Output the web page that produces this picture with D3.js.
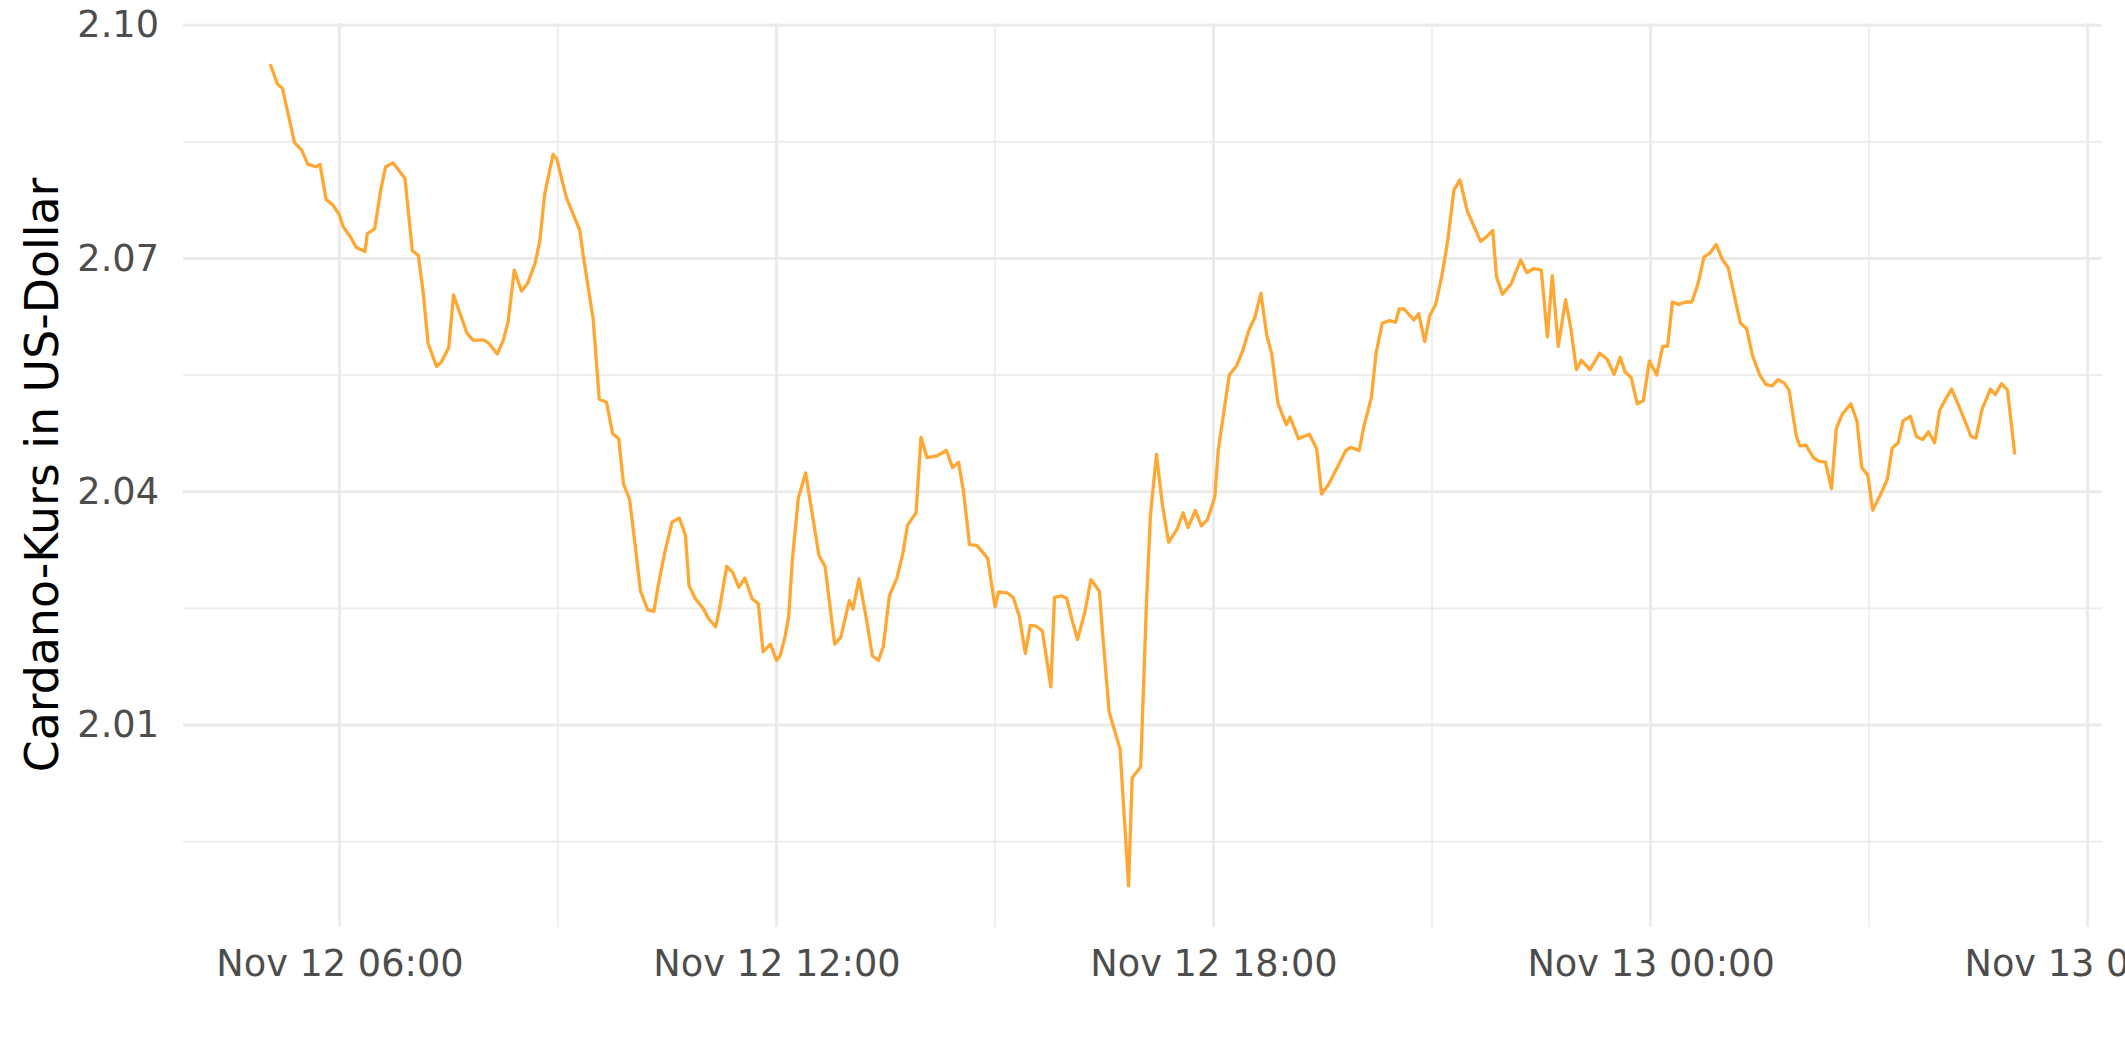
<!DOCTYPE html>
<html>
<head>
<meta charset="utf-8">
<script src="https://cdn.jsdelivr.net/npm/d3@7"></script>
<style>
  html, body { margin: 0; padding: 0; background: #fff; }
  svg { display: block; }
</style>
</head>
<body>
<svg id="chart"></svg>
<script>
// ---- data ----
const timesNov12 = [
  "05:03","05:09","05:13","05:18","05:23","05:29","05:34","05:41","05:44","05:49","05:55",
  "06:00","06:03","06:09","06:14","06:21","06:23","06:29","06:34","06:38","06:44","06:49","06:54",
  "07:00","07:05","07:09","07:13","07:20","07:24","07:30","07:34","07:45","07:50","07:59",
  "08:03","08:10","08:15","08:19","08:24","08:30","08:35","08:41","08:45","08:49","08:56","08:59",
  "09:07","09:18","09:21","09:29","09:34","09:40","09:45","09:50","09:54","09:59",
  "10:03","10:08","10:14","10:19","10:23","10:28","10:34","10:40","10:45","10:48","10:53",
  "11:00","11:04","11:10","11:13","11:19","11:24","11:29","11:34","11:40","11:45","11:49","11:55",
  "12:00","12:03","12:07","12:10","12:13","12:18","12:24","12:30","12:35","12:40","12:43","12:48","12:53",
  "13:00","13:03","13:08","13:14","13:19","13:24","13:28","13:33","13:39","13:44","13:48","13:55","13:59",
  "14:04","14:09","14:12","14:20","14:25","14:30","14:34","14:39","14:45","14:50","14:54",
  "15:00","15:03","15:10","15:15","15:20","15:25","15:29","15:34","15:39","15:46","15:49","15:55","15:59",
  "16:04","16:08","16:14","16:19","16:26","16:28","16:34","16:43","16:50","16:53",
  "17:00","17:05","17:08","17:13","17:18","17:23","17:30","17:35","17:39","17:45","17:50","17:55",
  "18:01","18:04","18:13","18:19","18:24","18:29","18:34","18:39","18:44","18:48","18:53",
  "19:00","19:03","19:10","19:19","19:25","19:29","19:35","19:49","19:53",
  "20:00","20:04","20:10","20:14","20:19","20:25","20:30","20:33","20:37","20:45","20:49","20:54","20:58",
  "21:03","21:08","21:13","21:18","21:23","21:29","21:40","21:45","21:50","21:53","21:58",
  "22:05","22:13","22:18","22:24","22:30","22:35","22:39","22:44","22:50","22:54","22:59",
  "23:03","23:10","23:15","23:18","23:24","23:30","23:35","23:39","23:44","23:49","23:54","23:59"
];
const timesNov13 = [
  "00:05","00:10","00:14","00:18","00:23","00:29","00:34","00:39","00:44","00:49","00:54","00:59",
  "01:04","01:09","01:14","01:19","01:24","01:30","01:35","01:40","01:45","01:50","01:54",
  "02:00","02:03","02:08","02:14","02:19","02:24","02:29","02:33","02:38","02:45","02:50","02:54","02:59",
  "03:03","03:09","03:15","03:19","03:24","03:28","03:34","03:39","03:44","03:49","03:54","03:58",
  "04:03","04:08","04:14","04:20","04:24","04:28","04:33","04:40","04:44","04:49","04:54","05:00"
];
const prices = [
  2.0950,2.0924,2.0919,2.0884,2.0849,2.0839,2.0821,2.0818,2.0821,2.0776,2.0768,
  2.0756,2.0741,2.0728,2.0714,2.0709,2.0732,2.0738,2.0788,2.0818,2.0823,2.0813,2.0803,
  2.0710,2.0704,2.0656,2.0591,2.0561,2.0567,2.0585,2.0653,2.0604,2.0595,2.0595,
  2.0591,2.0577,2.0595,2.0619,2.0685,2.0658,2.0668,2.0693,2.0722,2.0782,2.0834,2.0828,
  2.0778,2.0736,2.0702,2.0622,2.0519,2.0515,2.0475,2.0468,2.0410,2.0390,
  2.0339,2.0272,2.0248,2.0246,2.0283,2.0322,2.0361,2.0366,2.0344,2.0279,2.0263,
  2.0249,2.0237,2.0226,2.0249,2.0304,2.0296,2.0277,2.0289,2.0262,2.0256,2.0194,2.0204,
  2.0183,2.0189,2.0213,2.0239,2.0311,2.0392,2.0424,2.0366,2.0318,2.0304,2.0266,2.0204,2.0213,
  2.0260,2.0249,2.0288,2.0237,2.0189,2.0183,2.0201,2.0266,2.0288,2.0320,2.0357,2.0373,2.0470,
  2.0444,2.0445,2.0446,2.0453,2.0431,2.0438,2.0401,2.0332,2.0331,2.0322,2.0314,
  2.0252,2.0271,2.0270,2.0264,2.0240,2.0192,2.0228,2.0227,2.0221,2.0149,2.0264,2.0266,2.0263,
  2.0232,2.0210,2.0245,2.0287,2.0272,2.0230,2.0117,2.0069,1.9893,2.0032,
  2.0046,2.0266,2.0369,2.0448,2.0382,2.0335,2.0352,2.0373,2.0354,2.0376,2.0356,2.0364,
  2.0393,2.0455,2.0550,2.0562,2.0581,2.0607,2.0624,2.0655,2.0600,2.0577,2.0514,
  2.0486,2.0496,2.0468,2.0474,2.0455,2.0397,2.0410,2.0453,2.0457,
  2.0453,2.0485,2.0521,2.0579,2.0617,2.0620,2.0618,2.0635,2.0635,2.0621,2.0629,2.0593,2.0626,
  2.0641,2.0677,2.0724,2.0788,2.0801,2.0761,2.0722,2.0728,2.0736,2.0677,2.0654,
  2.0667,2.0698,2.0682,2.0687,2.0685,2.0599,2.0678,2.0587,2.0647,2.0613,2.0557,
  2.0569,2.0557,2.0570,2.0578,2.0571,2.0551,2.0573,2.0554,2.0547,2.0513,2.0517,2.0568,
  2.0550,2.0587,2.0587,2.0644,2.0641,2.0644,2.0644,2.0667,2.0702,2.0707,2.0718,2.0699,
  2.0688,2.0652,2.0617,2.0610,2.0575,2.0550,2.0538,2.0536,2.0544,2.0540,2.0531,
  2.0472,2.0459,2.0460,2.0444,2.0439,2.0438,2.0404,2.0481,2.0500,2.0513,2.0491,2.0431,2.0421,
  2.0376,2.0395,2.0416,2.0456,2.0463,2.0491,2.0497,2.0471,2.0467,2.0477,2.0463,2.0504,
  2.0519,2.0532,2.0510,2.0487,2.0471,2.0469,2.0506,2.0532,2.0525,2.0539,2.0531,2.0448
];
const yMajorTicks = [2.01, 2.04, 2.07, 2.10];
const yMinorTicks = [1.995, 2.025, 2.055, 2.085];
const xMajorTicks = ["2021-11-12 06:00","2021-11-12 12:00","2021-11-12 18:00","2021-11-13 00:00","2021-11-13 06:00"];
const xMinorTicks = ["2021-11-12 09:00","2021-11-12 15:00","2021-11-12 21:00","2021-11-13 03:00"];
const yTitle = "Cardano-Kurs in US-Dollar";

// ---- build ----
const parse = d3.utcParse("%Y-%m-%d %H:%M");
const times = timesNov12.map(t => parse("2021-11-12 " + t))
  .concat(timesNov13.map(t => parse("2021-11-13 " + t)));
const data = times.map((t, i) => ({ t, v: prices[i] }));

const W = 2125, H = 1062;
const margin = { top: 23, right: 23, bottom: 135, left: 183 };

const svg = d3.select("#chart").attr("width", W).attr("height", H);
svg.append("rect").attr("width", W).attr("height", H).attr("fill", "#fff");

function expand(ext, f) { const r = ext[1] - ext[0]; return [ext[0] - r * f, ext[1] + r * f]; }

const tExt = d3.extent(times, d => +d);
const xDom = expand(tExt, 0.05).map(d => new Date(d));
const yDom = expand(d3.extent(prices), 0.05);

const x = d3.scaleUtc().domain(xDom).range([margin.left, W - margin.right]);
const y = d3.scaleLinear().domain(yDom).range([H - margin.bottom, margin.top]);

const grid = svg.append("g");
const gridColor = "#EBEBEB";
// minor
grid.selectAll(".ymin").data(yMinorTicks).join("line")
  .attr("x1", margin.left).attr("x2", W - margin.right)
  .attr("y1", d => y(d)).attr("y2", d => y(d))
  .attr("stroke", gridColor).attr("stroke-width", 1.6);
grid.selectAll(".xmin").data(xMinorTicks.map(parse)).join("line")
  .attr("x1", d => x(d)).attr("x2", d => x(d))
  .attr("y1", margin.top).attr("y2", H - margin.bottom)
  .attr("stroke", gridColor).attr("stroke-width", 1.6);
// major
grid.selectAll(".ymaj").data(yMajorTicks).join("line")
  .attr("x1", margin.left).attr("x2", W - margin.right)
  .attr("y1", d => y(d)).attr("y2", d => y(d))
  .attr("stroke", gridColor).attr("stroke-width", 3);
grid.selectAll(".xmaj").data(xMajorTicks.map(parse)).join("line")
  .attr("x1", d => x(d)).attr("x2", d => x(d))
  .attr("y1", margin.top).attr("y2", H - margin.bottom)
  .attr("stroke", gridColor).attr("stroke-width", 3);

// line
const line = d3.line().x(d => x(d.t)).y(d => y(d.v));
svg.append("path").datum(data)
  .attr("d", line)
  .attr("fill", "none")
  .attr("stroke", "#FFA733")
  .attr("stroke-width", 3.3)
  .attr("stroke-linejoin", "round");

// axes
const font = "'DejaVu Sans', sans-serif";
const xAxis = d3.axisBottom(x)
  .tickValues(xMajorTicks.map(parse))
  .tickFormat(d3.utcFormat("%b %d %H:%M"))
  .tickSize(0).tickPadding(23);
const gx = svg.append("g").attr("transform", `translate(0,${H - margin.bottom})`).call(xAxis);
gx.select(".domain").remove();
gx.selectAll("text").attr("fill", "#4D4D4D").style("font-family", font).style("font-size", "36.7px");

const yAxis = d3.axisLeft(y)
  .tickValues(yMajorTicks)
  .tickFormat(d3.format(".2f"))
  .tickSize(0).tickPadding(24);
const gy = svg.append("g").attr("transform", `translate(${margin.left},0)`).call(yAxis);
gy.select(".domain").remove();
gy.selectAll("text").attr("fill", "#4D4D4D").style("font-family", font).style("font-size", "36.7px");

// y title
svg.append("text")
  .attr("transform", `translate(58,${(margin.top + H - margin.bottom) / 2}) rotate(-90)`)
  .attr("text-anchor", "middle")
  .attr("fill", "#000")
  .style("font-family", font)
  .style("font-size", "45.8px")
  .text(yTitle);
</script>
</body>
</html>
